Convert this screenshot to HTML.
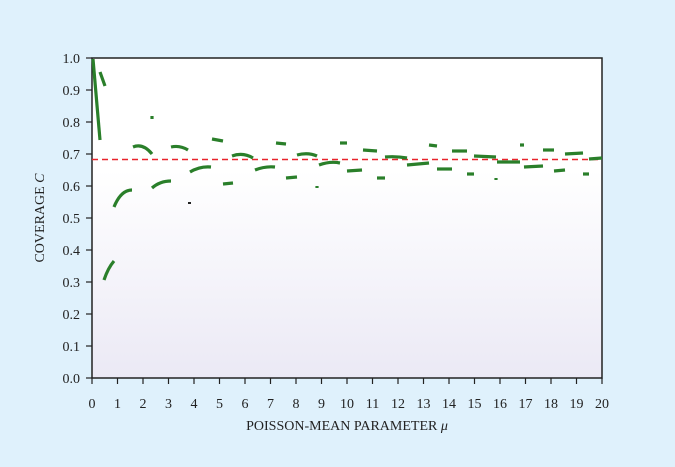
<!DOCTYPE html>
<html><head><meta charset="utf-8"><style>
body{margin:0;background:#dff1fc;}
svg{display:block;font-family:"Liberation Serif",serif;}
</style></head><body>
<svg width="675" height="467" viewBox="0 0 675 467">
<defs><linearGradient id="g" x1="0" y1="0" x2="0" y2="1">
<stop offset="0" stop-color="#ffffff"/><stop offset="0.35" stop-color="#ffffff"/><stop offset="1" stop-color="#ebe9f5"/></linearGradient></defs>
<rect width="675" height="467" fill="#dff1fc"/>
<rect x="92" y="58" width="510" height="320" fill="url(#g)" stroke="#222" stroke-width="1.5"/>
<g stroke="#222" stroke-width="1.2">
<line x1="86" y1="58" x2="92" y2="58"/><line x1="86" y1="90" x2="92" y2="90"/><line x1="86" y1="122" x2="92" y2="122"/><line x1="86" y1="154" x2="92" y2="154"/><line x1="86" y1="186" x2="92" y2="186"/><line x1="86" y1="218" x2="92" y2="218"/><line x1="86" y1="250" x2="92" y2="250"/><line x1="86" y1="282" x2="92" y2="282"/><line x1="86" y1="314" x2="92" y2="314"/><line x1="86" y1="346" x2="92" y2="346"/><line x1="86" y1="378" x2="92" y2="378"/>
</g>
<g stroke="#222" stroke-width="1.2" id="xt"></g>
<g font-size="14" fill="#222" text-anchor="end">
<text x="80" y="63">1.0</text><text x="80" y="95">0.9</text><text x="80" y="127">0.8</text><text x="80" y="159">0.7</text><text x="80" y="191">0.6</text><text x="80" y="223">0.5</text><text x="80" y="255">0.4</text><text x="80" y="287">0.3</text><text x="80" y="319">0.2</text><text x="80" y="351">0.1</text><text x="80" y="383">0.0</text>
</g>
<g font-size="14" fill="#222" text-anchor="middle" id="xl">
<text x="92" y="408">0</text><text x="117.5" y="408">1</text><text x="143" y="408">2</text><text x="168.5" y="408">3</text><text x="194" y="408">4</text><text x="219.5" y="408">5</text><text x="245" y="408">6</text><text x="270.5" y="408">7</text><text x="296" y="408">8</text><text x="321.5" y="408">9</text><text x="347" y="408">10</text><text x="372.5" y="408">11</text><text x="398" y="408">12</text><text x="423.5" y="408">13</text><text x="449" y="408">14</text><text x="474.5" y="408">15</text><text x="500" y="408">16</text><text x="525.5" y="408">17</text><text x="551" y="408">18</text><text x="576.5" y="408">19</text><text x="602" y="408">20</text>
</g>
<g stroke="#222" stroke-width="1.2">
<path d="M92 378v6M117.5 378v6M143 378v6M168.5 378v6M194 378v6M219.5 378v6M245 378v6M270.5 378v6M296 378v6M321.5 378v6M347 378v6M372.5 378v6M398 378v6M423.5 378v6M449 378v6M474.5 378v6M500 378v6M525.5 378v6M551 378v6M576.5 378v6M602 378v6"/>
</g>
<text x="347" y="430" font-size="14" fill="#222" text-anchor="middle">POISSON-MEAN PARAMETER <tspan font-style="italic">μ</tspan></text>
<text transform="translate(44 218) rotate(-90)" font-size="14" fill="#222" text-anchor="middle">COVERAGE <tspan font-style="italic">C</tspan></text>
<line x1="92" y1="159.5" x2="602" y2="159.5" stroke="#e8242c" stroke-width="1.5" stroke-dasharray="6,4"/>
<g stroke="#2a7f2a" stroke-width="3.2" fill="none" stroke-linecap="butt">
<path d="M93 59L100 140"/>
<path d="M100 72L105 86"/>
<path d="M152 116v3"/>
<path d="M133 147Q143 143 152 154"/>
<path d="M171 147Q180 145 188 150"/>
<path d="M212 139L223 141"/>
<path d="M232 156Q243 152 253 158"/>
<path d="M276 143L286 144"/>
<path d="M297 155Q308 152 317 156"/>
<path d="M319 165Q330 161 340 163"/>
<path d="M104 280Q108 268 114 261"/>
<path d="M114 207Q121 190 132 190"/>
<path d="M152 188Q160 181 171 181"/>
<path d="M190 172Q200 166 211 167"/>
<path d="M223 184L233 183"/>
<path d="M255 170Q265 166 275 167"/>
<path d="M286 178L297 177"/>
<path d="M317 186v2"/>
<path d="M340 143L347 143"/>
<path d="M347 171L362 170"/>
<path d="M363 150L377 151"/>
<path d="M377 178L385 178"/>
<path d="M385 157Q396 156 407 158"/>
<path d="M407 165L429 163"/>
<path d="M429 145L437 146"/>
<path d="M437 169L452 169"/>
<path d="M452 151L467 151"/>
<path d="M467 174L474 174"/>
<path d="M474 156L496 157"/>
<path d="M496 178v2"/>
<path d="M497 162L520 162"/>
<path d="M520 145L524 145"/>
<path d="M524 167L543 166"/>
<path d="M543 150L554 150"/>
<path d="M554 171L565 170"/>
<path d="M565 154L583 153"/>
<path d="M583 174L589 174"/>
<path d="M589 159L602 158"/>
</g>
<rect x="188" y="202" width="3" height="2" fill="#222"/>
</svg>
</body></html>
